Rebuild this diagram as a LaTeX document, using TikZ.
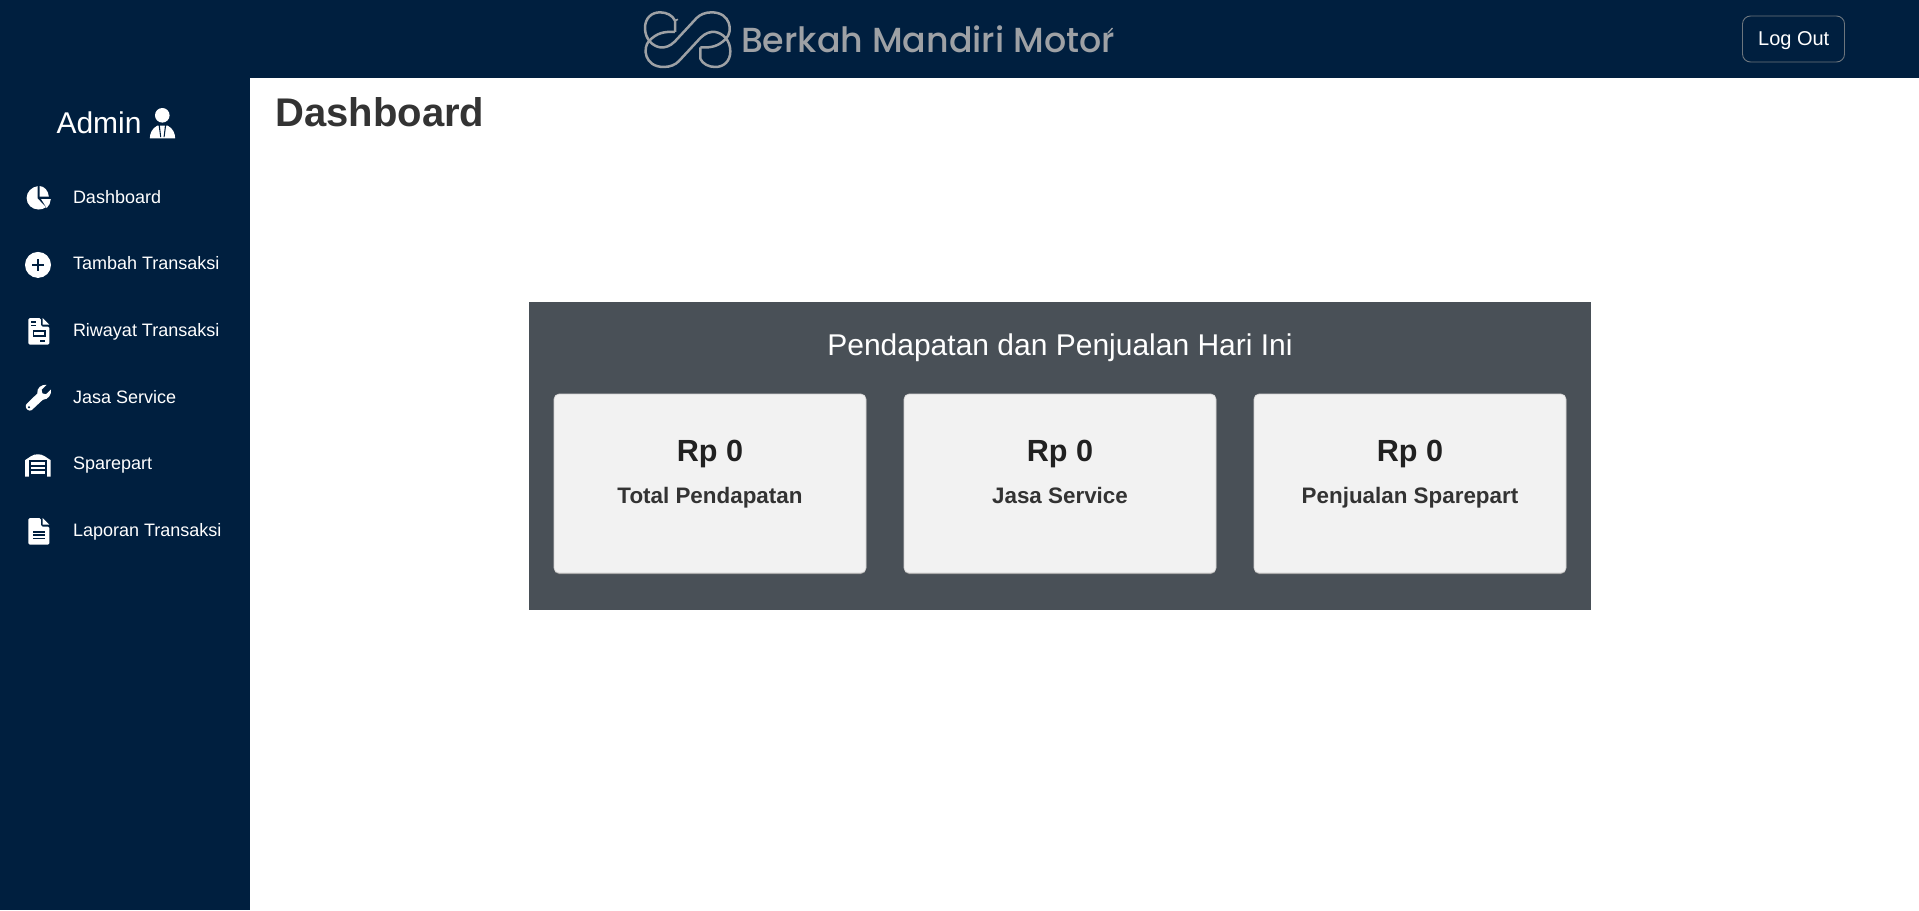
\documentclass[tikz,border=0pt]{standalone}
\usepackage{fontspec}
\setmainfont{Liberation Sans}
\newfontfamily\logofont{Poppins Medium}
\definecolor{navy}{HTML}{001F3F}
\definecolor{panelgrey}{HTML}{495057}
\definecolor{cardgrey}{HTML}{F2F2F2}
\definecolor{ink}{HTML}{333333}
\definecolor{inkdark}{HTML}{212121}
\definecolor{logogrey}{HTML}{9EA1A5}
\definecolor{btnline}{HTML}{6C757D}
\newcommand{\fs}[1]{\fontsize{#1}{#1}\selectfont}
\newcommand{\infhalf}{(181,118) .. controls (215,120) and (235,115) .. (258,92)
  .. controls (280,70) and (272,13) .. (215,13)
  .. controls (195,13) and (180,20) .. (170,30)
  -- (105,100)
  .. controls (90,115) and (75,120) .. (60,118)
  .. controls (40,115) and (15,95) .. (15,60)
  .. controls (15,30) and (35,13) .. (60,13)
  .. controls (80,13) and (98,22) .. (105,38) -- (105,72)}
\tikzset{
  x=1pt,y=-1pt,
  txt/.style={inner sep=0pt,outer sep=0pt,anchor=base},
  menu/.style={txt,anchor=base west,white,font=\fs{18}},
  amount/.style={txt,inkdark,font=\fs{30.6}\bfseries},
  cardlabel/.style={txt,ink,font=\fs{22.4}\bfseries},
  card/.style={fill=cardgrey,draw=black!18,line width=.6pt,rounded corners=5},
  cardshadow/.style={fill=black!45,rounded corners=5},
  iconw/.style={fill=white,draw=none},
  icond/.style={fill=navy,draw=none},
}
\begin{document}
\begin{tikzpicture}
\useasboundingbox (0,0) rectangle (1919,910);
\fill[white] (0,0) rectangle (1919,910);
\fill[navy] (0,0) rectangle (1919,78);
\fill[navy] (0,78) rectangle (250,910);
% logo
\begin{scope}[shift={(640,8)},x=0.3333pt,y=-0.3333pt]
  \draw[logogrey,line width=2.5pt,line join=round] \infhalf;
  \draw[logogrey,line width=2.5pt,line join=round,rotate around={180:(143,95)}] \infhalf;
  \draw[logogrey,line width=1.6pt] (105,38) -- (114,34);
\end{scope}
\node[txt,anchor=base west,logogrey,font=\logofont\fs{34.8}] (logotext) at (741,52) {Berkah Mandiri Motor};
\draw[logogrey,line width=1.3pt] (1108,33) -- (1112.5,28);
% log out
\node[draw=btnline,line width=.9pt,rounded corners=8,minimum width=102pt,minimum height=46pt,inner sep=0pt] (logoutbox) at (1793.5,39) {};
\node[txt,white,font=\fs{20}] (logout) at (1793.7,45.7) {Log Out};
% sidebar title
\node[txt,anchor=base west,white,font=\fs{30}] (admin) at (56.5,133.8) {Admin};
% user icon
\fill[iconw] (162.3,115.3) circle (7.3);
\fill[iconw] (149.8,138.3) .. controls (150,133) and (152,128.5) .. (157.5,125.5) -- (167.5,125.5) .. controls (173,128.5) and (175,133) .. (175.2,138.3) -- cycle;
\fill[icond] (158.6,125) -- (159.8,125) -- (161.2,137) -- (160.2,137) -- cycle;
\fill[icond] (166.2,125) -- (165,125) -- (163.6,137) -- (164.6,137) -- cycle;
% menu
\node[menu] (m1) at (73,203.2) {Dashboard};
\node[menu] (m2) at (73,269.9) {Tambah Transaksi};
\node[menu] (m3) at (73,336) {Riwayat Transaksi};
\node[menu] (m4) at (73,403.2) {Jasa Service};
\node[menu] (m5) at (73,469.9) {Sparepart};
\node[menu] (m6) at (73,536) {Laporan Transaksi};
% pie icon
\fill[iconw] (37.6,186.2) -- (37.6,198.5) -- (46,207.2) .. controls (43.5,208.9) and (41,209.5) .. (38.5,209.5) .. controls (32,209.5) and (26.6,204.5) .. (26.6,198) .. controls (26.6,192) and (31.5,187) .. (37.6,186.2) -- cycle;
\fill[iconw] (39.5,186) .. controls (44.5,186.2) and (48.5,191) .. (48.8,196.6) -- (39.5,196.6) -- cycle;
\fill[iconw] (41.2,199.2) -- (50.8,199.2) .. controls (50.6,202.5) and (49.2,205.8) .. (46.7,208) -- cycle;
% plus icon
\fill[iconw] (38,264.9) circle (13);
\fill[icond] (36.8,258.8) rectangle (39.2,271);
\fill[icond] (31.9,263.7) rectangle (44.1,266.1);
% riwayat icon
\fill[iconw,rounded corners=1.5] (28.3,318) -- (40.8,318) -- (40.8,326.5) -- (49.3,326.5) -- (49.3,344.7) -- (28.3,344.7) -- cycle;
\fill[iconw] (42.6,318) -- (49.3,324.7) -- (42.6,324.7) -- cycle;
\fill[icond] (30.7,321.2) rectangle (36,322.8);
\fill[icond] (30.7,324.8) rectangle (36,326.2);
\fill[icond] (32.7,329.7) rectangle (46,337.3);
\fill[iconw] (34.3,331.6) rectangle (44.4,335.2);
\fill[icond] (40,340) rectangle (45,341.6);
% wrench icon
\fill[iconw] (51,389.5) .. controls (51.6,394.5) and (48.5,399.5) .. (42.8,399.8) -- (31.8,410)
  .. controls (29.5,412) and (25,409) .. (25.8,405.5) .. controls (25.9,405) and (26,404.6) .. (26.6,404)
  -- (37.3,393.5) .. controls (36.5,388) and (41.5,384.2) .. (46.7,384.8) -- (41.6,389.8) -- (42.4,393.4) -- (46,394.2) -- cycle;
\fill[icond] (29,407.3) circle (1.1);
% garage icon
\fill[iconw] (25,476.7) -- (25,460.2) -- (31,456.2) .. controls (35,453.6) and (40.6,453.6) .. (44.6,456.2) -- (50.7,460.2) -- (50.7,476.7) -- cycle;
\fill[icond] (29.3,460) rectangle (46.7,476.7);
\fill[iconw] (30.7,462.3) rectangle (45.4,465);
\fill[iconw] (30.7,466.7) rectangle (45.4,469.2);
\fill[iconw] (30.7,471.1) rectangle (45.4,474.2);
% laporan icon
\fill[iconw,rounded corners=1.5] (28.3,518) -- (40.8,518) -- (40.8,526.5) -- (49.3,526.5) -- (49.3,544.7) -- (28.3,544.7) -- cycle;
\fill[iconw] (42.6,518) -- (49.3,524.7) -- (42.6,524.7) -- cycle;
\fill[icond] (32.7,531) rectangle (45,532.6);
\fill[icond] (32.7,534.4) rectangle (45,536);
\fill[icond] (32.7,537.8) rectangle (45,539.4);
% content
\node[txt,anchor=base west,ink,font=\fs{40}\bfseries] (heading) at (275.5,126) {Dashboard};
\fill[panelgrey] (529,302) rectangle (1591,610);
\node[txt,white,font=\fs{30}] (paneltitle) at (1060,355) {Pendapatan dan Penjualan Hari Ini};
\foreach \xa in {554,904,1254}{
  \fill[cardshadow] (\xa,395.5) rectangle ++(312,178.5);
  \draw[card] (\xa,394) rectangle ++(312,179);
}
\node[amount] (a1) at (710,461.7) {Rp 0};
\node[cardlabel] (a2) at (710,503.3) {Total Pendapatan};
\node[amount] (b1) at (1060,461.7) {Rp 0};
\node[cardlabel] (b2) at (1060,503.3) {Jasa Service};
\node[amount] (c1) at (1410,461.7) {Rp 0};
\node[cardlabel] (c2) at (1410,503.3) {Penjualan Sparepart};
\end{tikzpicture}
\end{document}
